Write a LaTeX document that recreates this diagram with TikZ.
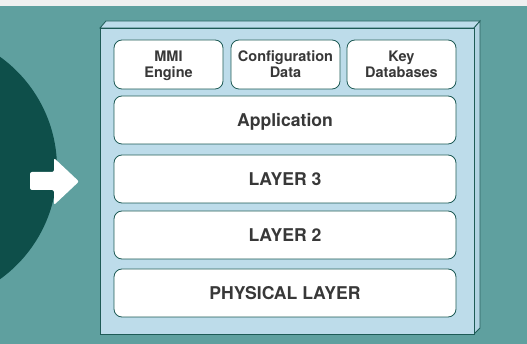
\documentclass[tikz,border=0pt]{standalone}
\usepackage{fontspec}
\setmainfont{TeX Gyre Heros}
\definecolor{bgteal}{HTML}{5FA09F}
\definecolor{darkteal}{HTML}{0E4F4A}
\definecolor{stripgray}{HTML}{EFF0F0}
\definecolor{facebl}{HTML}{BDDCEA}
\definecolor{sidebl}{HTML}{B2D3E2}
\definecolor{edgeteal}{HTML}{1E5B56}
\definecolor{txtgray}{HTML}{383838}
\begin{document}
\begin{tikzpicture}[x=1pt,y=-1pt,
  layerbox/.style={draw=edgeteal, line width=0.8pt, fill=white, rounded corners=8pt,
    minimum width=342pt, minimum height=48pt, inner sep=0pt,
    text height=13.5pt, text depth=0pt,
    font=\fontsize{17.6}{19}\selectfont\bfseries, text=txtgray},
  topbox/.style={draw=edgeteal, line width=0.8pt, fill=white, rounded corners=8pt,
    minimum width=109pt, minimum height=49pt, inner sep=0pt, align=center,
    font=\fontsize{14.5}{16}\selectfont\bfseries, text=txtgray}]
\useasboundingbox (0,0) rectangle (527,344);
% background
\fill[bgteal] (0,0) rectangle (527,344);
\fill[stripgray] (0,0) rectangle (527,6);
\begin{scope}
\clip (0,6) rectangle (527,344);
\fill[darkteal] (-80,168) circle (137);
\end{scope}
% arrow
\fill[white, rounded corners=2pt] (30,172) -- (54,172) -- (54,158) -- (79,181.5)
  -- (54,205) -- (54,190) -- (30,190) -- cycle;
% 3D box
\filldraw[fill=facebl, draw=edgeteal, line width=0.8pt] (100,28) -- (106,21) -- (480,21) -- (474,28) -- cycle;
\filldraw[fill=sidebl, draw=edgeteal, line width=0.8pt] (474,28) -- (480,21) -- (480,328) -- (474,334) -- cycle;
\filldraw[fill=facebl, draw=edgeteal, line width=0.8pt] (100,28) rectangle (474,334);
% top row
\node[topbox] (mmi) at (168.5,64.5) {MMI\\\smash{Engine}};
\node[topbox] (cfg) at (285.5,64.5) {Configuration\\\smash{Data}};
\node[topbox] (key) at (401.5,64.5) {Key\\\smash{Databases}};
% layers
\node[layerbox] (app) at (285,120) {Application};
\node[layerbox] (l3) at (285,179) {LAYER 3};
\node[layerbox] (l2) at (285,235) {LAYER 2};
\node[layerbox] (phy) at (285,293) {PHYSICAL LAYER};
\end{tikzpicture}
\end{document}
